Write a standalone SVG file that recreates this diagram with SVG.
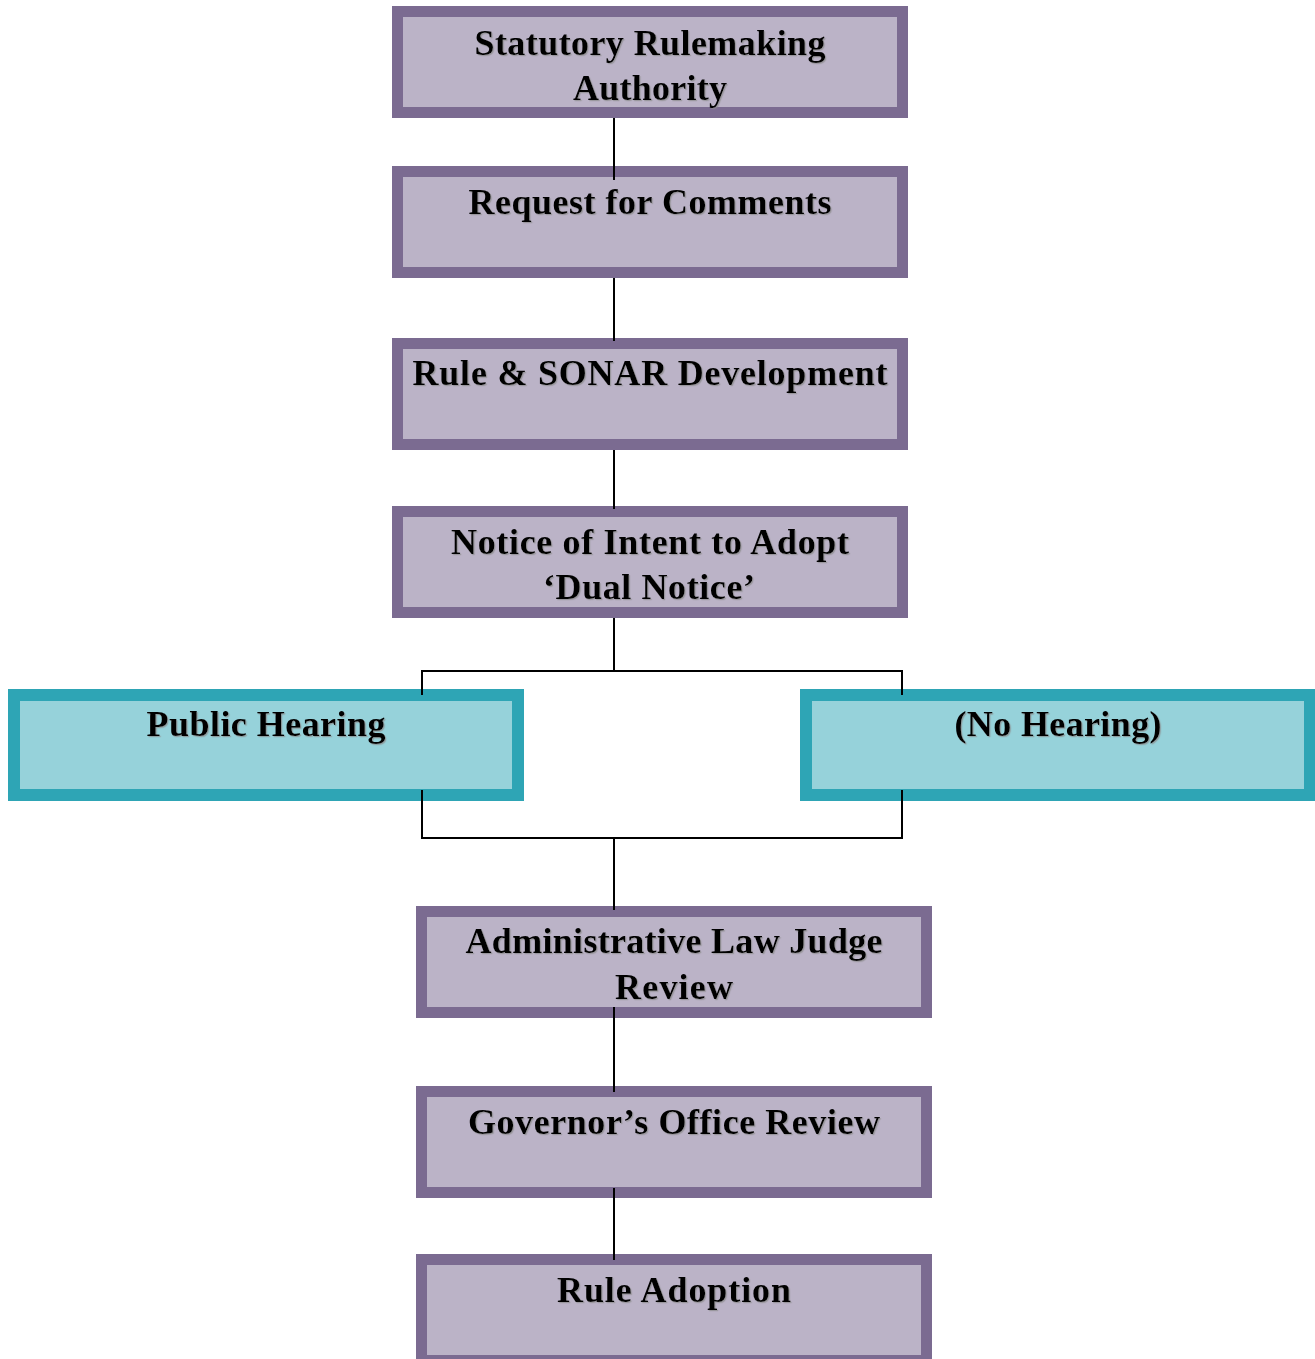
<svg xmlns="http://www.w3.org/2000/svg" width="1315" height="1359" viewBox="0 0 1315 1359">
<defs>
<filter id="shadow" x="-5%" y="-20%" width="110%" height="140%">
<feDropShadow dx="1.2" dy="1.2" stdDeviation="0.4" flood-color="#8a8a8a" flood-opacity="0.7"/>
</filter>
</defs>
<style>
.p{fill:#BBB3C7;stroke:#7B6B91;stroke-width:11}
.t{fill:#96D2DA;stroke:#2EA5B5;stroke-width:12}
text{font-family:"Liberation Serif","Times New Roman",serif;font-weight:bold;font-size:36px;fill:#000;text-anchor:middle;filter:url(#shadow)}
.c{fill:none;stroke:#000;stroke-width:2}
</style>
<rect width="1315" height="1359" fill="#fff"/>
<g id="n1"><rect class="p" x="397.5" y="11.5" width="505" height="101"/>
<text x="650" y="55" textLength="351" lengthAdjust="spacing">Statutory Rulemaking</text>
<text x="650" y="100" textLength="154" lengthAdjust="spacing">Authority</text></g>
<g id="n2"><rect class="p" x="397.5" y="171.5" width="505" height="101"/>
<text x="650" y="214" textLength="363" lengthAdjust="spacing">Request for Comments</text></g>
<g id="n3"><rect class="p" x="397.5" y="343.5" width="505" height="101"/>
<text x="650" y="385" textLength="475" lengthAdjust="spacing">Rule &amp; SONAR Development</text></g>
<g id="n4"><rect class="p" x="397.5" y="511.5" width="505" height="101"/>
<text x="650" y="554" textLength="398" lengthAdjust="spacing">Notice of Intent to Adopt</text>
<text x="649" y="599" textLength="212" lengthAdjust="spacing">‘Dual Notice’</text></g>
<g id="n5"><rect class="t" x="14" y="695" width="504" height="100"/>
<text x="266" y="736" textLength="239" lengthAdjust="spacing">Public Hearing</text></g>
<g id="n6"><rect class="t" x="806" y="695" width="504" height="100"/>
<text x="1058" y="736" textLength="207" lengthAdjust="spacing">(No Hearing)</text></g>
<g id="n7"><rect class="p" x="421.5" y="911.5" width="505" height="101"/>
<text x="674" y="953" textLength="417" lengthAdjust="spacing">Administrative Law Judge</text>
<text x="674" y="999" textLength="118" lengthAdjust="spacing">Review</text></g>
<g id="n8"><rect class="p" x="421.5" y="1091.5" width="505" height="101"/>
<text x="674" y="1134" textLength="412" lengthAdjust="spacing">Governor’s Office Review</text></g>
<g id="n9"><rect class="p" x="421.5" y="1259.5" width="505" height="101"/>
<text x="674" y="1302" textLength="234" lengthAdjust="spacing">Rule Adoption</text></g>
<g id="connectors">
<path class="c" d="M614,118 V180"/>
<path class="c" d="M614,278 V341"/>
<path class="c" d="M614,450 V509"/>
<path class="c" d="M614,618 V671"/>
<path class="c" d="M422,695 V671 H902 V695"/>
<path class="c" d="M422,790 V838 H902 V790"/>
<path class="c" d="M614,838 V910"/>
<path class="c" d="M614,1007 V1092"/>
<path class="c" d="M614,1188 V1260"/>
</g>
</svg>
